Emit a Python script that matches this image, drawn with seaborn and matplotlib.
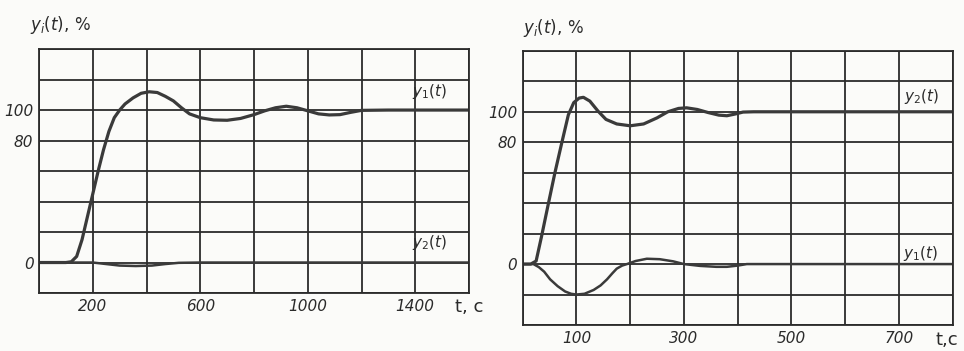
import matplotlib
matplotlib.use("Agg")
import matplotlib.pyplot as plt
import seaborn as sns

# ---------------------------------------------------------------------------
# Data (t in s, y in %)
# ---------------------------------------------------------------------------
left_t_y1 = [0, 100, 120, 140, 160, 180, 200, 220, 240, 260, 280, 300, 320, 350,
             380, 410, 440, 470, 500, 530, 560, 600, 650, 700, 750, 800, 840, 880,
             920, 960, 1000, 1040, 1080, 1120, 1160, 1200, 1300, 1600]
left_y1 = [0, 0, 0.5, 4, 15, 30, 45, 60, 74, 86, 95, 100, 104, 108,
           111, 112, 111.5, 109, 106, 101.5, 97.5, 95, 93.5, 93.3, 94.5, 97, 99.5, 101.5,
           102.5, 101.5, 99.5, 97.5, 96.8, 97, 98.5, 99.8, 100, 100]

left_t_y2 = [0, 200, 250, 300, 360, 420, 470, 520, 600, 1600]
left_y2 = [0, 0, -1, -2, -2.3, -2, -1, -0.2, 0, 0]

right_t_y2 = [0, 15, 25, 35, 48, 60, 73, 85, 95, 105, 113, 125, 140, 155, 175, 200,
              225, 250, 270, 290, 305, 325, 345, 365, 380, 395, 410, 430, 800]
right_y2 = [0, 0, 2, 18, 40, 60, 80, 98, 106, 109, 109.5, 107, 100.5, 95, 92, 90.8,
            92, 96, 100, 102.2, 102.6, 101.5, 99.5, 97.8, 97.4, 98.5, 99.8, 100, 100]

right_t_y1 = [0, 20, 30, 40, 51, 65, 79, 90, 100, 115, 132, 145, 157, 167, 175, 185,
              194, 210, 231, 255, 280, 300, 330, 360, 380, 400, 417, 800]
right_y1 = [0, 0, -2, -5, -10, -14.5, -18, -19.5, -20, -19.5, -17, -14, -10, -6, -3, -1,
            0, 2, 3.5, 3.2, 1.8, 0, -1.2, -1.8, -1.8, -1, 0, 0]

left_xgrid = [0, 200, 400, 600, 800, 1000, 1200, 1400, 1600]
left_xlabels = ["", "200", "", "600", "", "1000", "", "1400", ""]
left_ygrid = [-20, 0, 20, 40, 60, 80, 100, 120, 140]
left_ylabels = ["", "0", "", "", "", "80", "100", "", ""]

right_xgrid = [0, 100, 200, 300, 400, 500, 600, 700, 800]
right_xlabels = ["", "100", "", "300", "", "500", "", "700", ""]
right_ygrid = [-40, -20, 0, 20, 40, 60, 80, 100, 120, 140]
right_ylabels = ["", "", "0", "", "", "", "80", "100", "", ""]

INK = "#2b2b2b"
CURVE = "#3a3a3a"

sns.set_theme(style="white")
plt.rcParams["font.family"] = ["DejaVu Sans"]

fig = plt.figure(figsize=(9.64, 3.51), dpi=100)
fig.patch.set_facecolor("#fbfbf9")

ax_l = fig.add_axes([0.0405, 0.1652, 0.446, 0.695])
ax_r = fig.add_axes([0.5422, 0.0741, 0.446, 0.781])


def style_axes(ax, xgrid, xlabels, ygrid, ylabels):
    ax.set_facecolor("#fbfbf9")
    ax.set_xlim(xgrid[0], xgrid[-1])
    ax.set_ylim(ygrid[0], ygrid[-1])
    ax.set_xticks(xgrid)
    ax.set_xticklabels(xlabels, fontsize=11, style="italic", color=INK)
    ax.set_yticks(ygrid)
    ax.set_yticklabels(ylabels, fontsize=11, style="italic", color=INK)
    ax.tick_params(length=0, pad=4)
    ax.grid(True, color=INK, linewidth=1.3)
    for sp in ax.spines.values():
        sp.set_visible(True)
        sp.set_color(INK)
        sp.set_linewidth(1.3)
    ax.set_xlabel("")
    ax.set_ylabel("")


sns.lineplot(x=left_t_y1, y=left_y1, ax=ax_l, color=CURVE, linewidth=2.3)
sns.lineplot(x=left_t_y2, y=left_y2, ax=ax_l, color=CURVE, linewidth=1.8)
style_axes(ax_l, left_xgrid, left_xlabels, left_ygrid, left_ylabels)
ax_l.text(1455, 112, r"$y_1(t)$", fontsize=11, color=INK, ha="center", va="center")
ax_l.text(1455, 13, r"$y_2(t)$", fontsize=11, color=INK, ha="center", va="center")

sns.lineplot(x=right_t_y2, y=right_y2, ax=ax_r, color=CURVE, linewidth=2.3)
sns.lineplot(x=right_t_y1, y=right_y1, ax=ax_r, color=CURVE, linewidth=1.8)
style_axes(ax_r, right_xgrid, right_xlabels, right_ygrid, right_ylabels)
ax_r.text(742, 110, r"$y_2(t)$", fontsize=11, color=INK, ha="center", va="center")
ax_r.text(740, 7, r"$y_1(t)$", fontsize=11, color=INK, ha="center", va="center")

# axis titles, hand-lettered in the original
fig.text(30 / 964, 1 - 25 / 351, r"$y_i(t)$, %", fontsize=12, color=INK,
         ha="left", va="center")
fig.text(523 / 964, 1 - 28 / 351, r"$y_i(t)$, %", fontsize=12, color=INK,
         ha="left", va="center")
fig.text(455 / 964, 1 - 307 / 351, "t, c", fontsize=13, color=INK,
         ha="left", va="center")
fig.text(935 / 964, 1 - 340 / 351, "t,c", fontsize=13, color=INK,
         ha="left", va="center")

fig.savefig("out.png", dpi=100, facecolor=fig.get_facecolor())
